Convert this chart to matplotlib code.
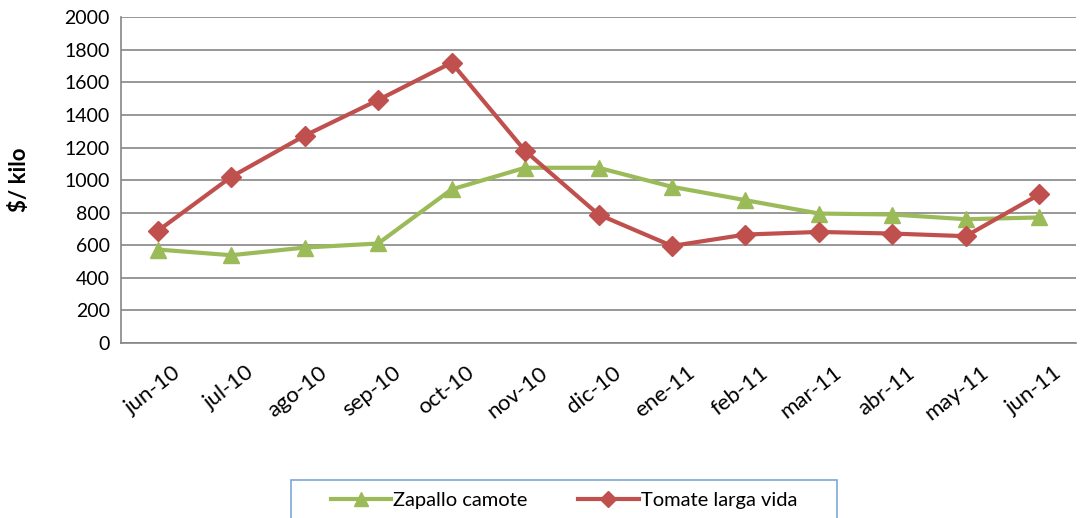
import matplotlib
matplotlib.use("Agg")
import matplotlib.pyplot as plt
from matplotlib.patches import Rectangle
from matplotlib.lines import Line2D
import matplotlib.transforms as mtransforms

months = ["jun-10", "jul-10", "ago-10", "sep-10", "oct-10", "nov-10", "dic-10",
          "ene-11", "feb-11", "mar-11", "abr-11", "may-11", "jun-11"]
zapallo = [574, 539, 586, 611, 943, 1076, 1076, 959, 877, 795, 789, 760, 771]
tomate = [688, 1020, 1273, 1492, 1721, 1180, 789, 596, 666, 682, 672, 656, 912]
yticks = list(range(0, 2001, 200))

GREEN = "#9BBB59"
RED = "#C0504D"
GRID = "#868686"

plt.rcParams["font.family"] = ["Lato", "DejaVu Sans"]

fig = plt.figure(figsize=(10.81, 5.18), dpi=100)
W, H = 1081, 518
ax = fig.add_axes([121 / W, 1 - 343 / H, (1076 - 121) / W, (343 - 17.3) / H])

x = list(range(len(months)))
ax.plot(x, zapallo, color=GREEN, lw=3, marker="^", ms=12, mec=GREEN, mfc=GREEN, zorder=3)
ax.plot(x, tomate, color=RED, lw=3, marker="D", ms=10, mec=RED, mfc=RED, zorder=4)

ax.set_xlim(-0.5, len(months) - 0.5)
ax.set_ylim(0, 2000)
ax.set_yticks(yticks)
ax.set_yticklabels([str(v) for v in yticks], fontsize=14)
ax.yaxis.grid(True, color=GRID, lw=1.2)
ax.set_axisbelow(True)
for s in ["top", "right"]:
    ax.spines[s].set_visible(False)
for s in ["left", "bottom"]:
    ax.spines[s].set_color(GRID)
    ax.spines[s].set_linewidth(1.2)
ax.tick_params(axis="y", length=0, pad=8)
ax.tick_params(axis="x", length=0, pad=4)

ax.set_xticks(x)
ax.set_xticklabels(months, fontsize=16, rotation=38, ha="right", va="top", rotation_mode="anchor")
offset = mtransforms.ScaledTranslation(14 / 100, -14 / 100, fig.dpi_scale_trans)
for lbl in ax.get_xticklabels():
    lbl.set_transform(lbl.get_transform() + offset)

fig.text(19 / W, 1 - 180 / H, "$/ kilo", rotation=90, fontsize=16, fontweight="bold",
         ha="center", va="center")

# Legend box
fig.patches.append(Rectangle((291 / W, -0.05), (837 - 291) / W, 0.05 + 1 - 480 / H,
                             transform=fig.transFigure, fill=False, ec="#7FA7D6", lw=1.2))
handles = [Line2D([], [], color=GREEN, lw=3, marker="^", ms=10),
           Line2D([], [], color=RED, lw=3, marker="D", ms=8)]
fig.legend(handles, ["Zapallo camote", "Tomate larga vida"], loc="center",
           bbox_to_anchor=(564 / W, 1 - 500 / H), ncol=2, frameon=False, fontsize=14.5,
           handlelength=3, handletextpad=0.1, columnspacing=2.5)

fig.savefig("out.png", dpi=100)
